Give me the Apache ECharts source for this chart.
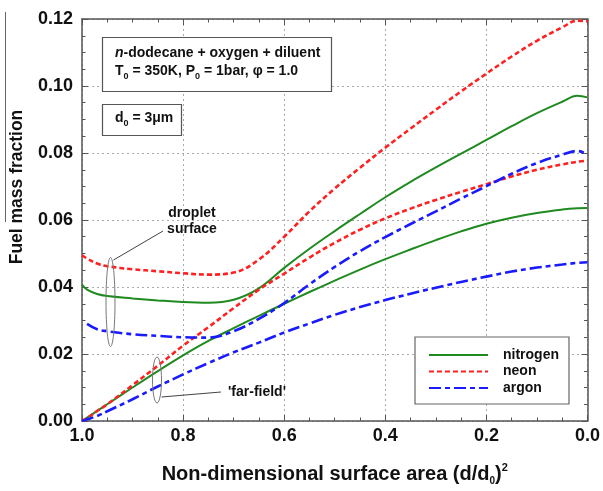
<!DOCTYPE html>
<html><head><meta charset="utf-8">
<script src="https://cdn.jsdelivr.net/npm/echarts@6/dist/echarts.min.js"></script>
<style>html,body{margin:0;padding:0;background:#fff}#c{width:603px;height:491px}</style>
</head><body><div id="c"></div>
<script>
// Non-dimensional surface area (d/d0)^2 sample positions
const xs = [1.0, 0.99, 0.97, 0.95, 0.9, 0.85, 0.8, 0.75, 0.7, 0.65, 0.6, 0.55, 0.5, 0.45, 0.4, 0.35, 0.3, 0.25, 0.2, 0.15, 0.1, 0.05, 0.02, 0.0];
// droplet surface fuel mass fraction
const nitrogenSurface = [0.0407, 0.0392, 0.0379, 0.0373, 0.0366, 0.0360, 0.0355, 0.0353, 0.0362, 0.0396, 0.0457, 0.0514, 0.0567, 0.0618, 0.0668, 0.0714, 0.0757, 0.0798, 0.0839, 0.0880, 0.0919, 0.0953, 0.0971, 0.0966];
const neonSurface     = [0.0495, 0.0485, 0.0470, 0.0462, 0.0453, 0.0447, 0.0441, 0.0437, 0.0443, 0.0482, 0.0550, 0.0626, 0.0694, 0.0756, 0.0816, 0.0873, 0.0929, 0.0984, 0.1037, 0.1088, 0.1135, 0.1175, 0.1195, 0.1193];
const argonSurface    = [null,   0.0290, 0.0274, 0.0268, 0.0259, 0.0254, 0.0250, 0.0249, 0.0268, 0.0305, 0.0352, 0.0408, 0.0460, 0.0507, 0.0549, 0.0588, 0.0626, 0.0664, 0.0701, 0.0738, 0.0770, 0.0795, 0.0806, 0.0795];
// 'far-field' fuel mass fraction
const nitrogenFar = [0, 0.0010, 0.0030, 0.0050, 0.0100, 0.0149, 0.0196, 0.0239, 0.0277, 0.0314, 0.0350, 0.0385, 0.0419, 0.0452, 0.0483, 0.0512, 0.0540, 0.0566, 0.0589, 0.0607, 0.0621, 0.0631, 0.0635, 0.0636];
const neonFar     = [0, 0.0008, 0.0030, 0.0050, 0.0107, 0.0165, 0.0225, 0.0280, 0.0337, 0.0392, 0.0440, 0.0488, 0.0532, 0.0571, 0.0605, 0.0634, 0.0660, 0.0684, 0.0707, 0.0730, 0.0750, 0.0766, 0.0774, 0.0777];
const argonFar    = [0, 0.0005, 0.0015, 0.0029, 0.0065, 0.0103, 0.0139, 0.0173, 0.0205, 0.0234, 0.0264, 0.0291, 0.0317, 0.0340, 0.0361, 0.0380, 0.0398, 0.0415, 0.0431, 0.0446, 0.0458, 0.0467, 0.0472, 0.0474];
const legendNames = ['nitrogen', 'neon', 'argon'];

const F = "'Liberation Sans', Arial, Helvetica, sans-serif";
const frame = '#555';
function pairs(ys) { return xs.map((x, i) => ys[i] == null ? null : [x, ys[i]]).filter(p => p); }

const styles = {
  nitrogen: { color: '#1f8a1f', width: 2, type: 'solid' },
  neon: { color: '#ff2020', width: 2.6, type: [5, 3] },
  argon: { color: '#1a1aff', width: 2.6, type: [12, 4, 5, 4] }
};
function ser(name, ys) {
  const s = styles[name];
  return { name, type: 'line', data: pairs(ys), symbol: 'none', smooth: 0.4,
    lineStyle: { color: s.color, width: s.width, type: s.type }, itemStyle: { color: s.color }, z: 3 };
}

const chart = echarts.init(document.getElementById('c'), null, { renderer: 'canvas' });
const axisCommon = {
  axisLine: { show: true, onZero: false, lineStyle: { color: frame, width: 1.5 } },
  axisTick: { show: true, inside: true, length: 6, lineStyle: { color: frame, width: 1 } },
  minorTick: { show: true, splitNumber: 4, length: 3.5, lineStyle: { color: frame, width: 1 } }
};
const labelFont = { color: '#111', fontSize: 18, fontWeight: 'bold', fontFamily: F };
const subStyle = { fontSize: 9, fontWeight: 'bold', fontFamily: F, fill: '#111', lineHeight: 1, verticalAlign: 'bottom' };
const mainStyle = { fontSize: 14, fontWeight: 'bold', fontFamily: F, fill: '#111', lineHeight: 20 };
chart.setOption({
  animation: false,
  backgroundColor: '#fff',
  grid: { left: 82, right: 11, top: 19, bottom: 65 },
  xAxis: [
    Object.assign({ type: 'value', min: 0, max: 1, interval: 0.2, inverse: true, position: 'bottom',
      axisLabel: Object.assign({ margin: 6, formatter: v => v.toFixed(1) }, labelFont),
      splitLine: { show: true, lineStyle: { color: '#aaa', width: 1, type: [2, 3] } },
      name: '{m|Non-dimensional surface area (d/d}{s|0}{m|)}{p|2}', nameLocation: 'middle', nameGap: 41,
      nameTextStyle: { rich: {
        m: { fontSize: 20, fontWeight: 'bold', fontFamily: F, color: '#111', lineHeight: 24 },
        s: { fontSize: 10, fontWeight: 'bold', fontFamily: F, color: '#111', lineHeight: 1, verticalAlign: 'bottom' },
        p: { fontSize: 11, fontWeight: 'bold', fontFamily: F, color: '#111', lineHeight: 8, verticalAlign: 'top' }
      } } }, axisCommon),
    Object.assign({ type: 'value', min: 0, max: 1, interval: 0.2, inverse: true, position: 'top',
      axisLabel: { show: false }, splitLine: { show: false } }, axisCommon)
  ],
  yAxis: [
    Object.assign({ type: 'value', min: 0, max: 0.12, interval: 0.02, position: 'left',
      axisLabel: Object.assign({ margin: 9, formatter: v => v.toFixed(2) }, labelFont),
      splitLine: { show: true, lineStyle: { color: '#aaa', width: 1, type: [2, 3] } } }, axisCommon),
    Object.assign({ type: 'value', min: 0, max: 0.12, interval: 0.02, position: 'right',
      axisLabel: { show: false }, splitLine: { show: false } }, axisCommon)
  ],
  legend: {
    data: legendNames, orient: 'vertical', left: 415, top: 337,
    backgroundColor: '#fff', borderColor: '#666', borderWidth: 1.2, borderRadius: 0,
    padding: [10, 10, 8, 13], itemWidth: 59, itemHeight: 14, itemGap: 0.5,
    itemStyle: { opacity: 0 },
    textStyle: { color: '#111', fontSize: 14, fontWeight: 'bold', fontFamily: F, lineHeight: 16, padding: [0, 0, 0, 10] },
    z: 20
  },
  series: [
    ser('nitrogen', nitrogenSurface), ser('nitrogen', nitrogenFar),
    ser('neon', neonSurface), ser('neon', neonFar),
    ser('argon', argonSurface), ser('argon', argonFar)
  ],
  graphic: [
    { type: 'line', z: 50, shape: { x1: 5.5, y1: 12, x2: 5.5, y2: 222 }, style: { stroke: '#666', lineWidth: 1 } },
    { type: 'text', z: 50, x: 17, y: 187, rotation: Math.PI / 2,
      style: { text: 'Fuel mass fraction', fontSize: 17.5, fontWeight: 'bold', fontFamily: F, fill: '#111', align: 'center', verticalAlign: 'middle' } },
    { type: 'rect', z: 50, shape: { x: 102.5, y: 37.5, width: 229, height: 54 }, style: { fill: '#fff', stroke: frame, lineWidth: 1.2 } },
    { type: 'rect', z: 50, shape: { x: 102.5, y: 104.5, width: 79, height: 31 }, style: { fill: '#fff', stroke: frame, lineWidth: 1.2 } },
    { type: 'text', z: 51, x: 115, y: 53,
      style: { text: '{i|n}{m|-dodecane + oxygen + diluent}', verticalAlign: 'middle', align: 'left',
        rich: { i: { fontSize: 14, fontWeight: 'bold', fontStyle: 'italic', fontFamily: F, fill: '#111' },
                m: { fontSize: 14, fontWeight: 'bold', fontFamily: F, fill: '#111' } } } },
    { type: 'text', z: 51, x: 115, y: 71.5,
      style: { text: '{m|T}{s|0}{m| = 350K, P}{s|0}{m| = 1bar, φ = 1.0}', verticalAlign: 'middle', align: 'left',
        rich: { m: mainStyle, s: subStyle } } },
    { type: 'text', z: 51, x: 115, y: 118.5,
      style: { text: '{m|d}{s|0}{m| = 3μm}', verticalAlign: 'middle', align: 'left',
        rich: { m: mainStyle, s: subStyle } } },
    { type: 'ellipse', z: 50, shape: { cx: 110.5, cy: 302, rx: 4.5, ry: 44.5 }, style: { fill: 'none', stroke: '#777', lineWidth: 1 } },
    { type: 'ellipse', z: 50, shape: { cx: 157, cy: 380, rx: 4.5, ry: 23 }, style: { fill: 'none', stroke: '#777', lineWidth: 1 } },
    { type: 'line', z: 50, shape: { x1: 113.5, y1: 260, x2: 163, y2: 231 }, style: { stroke: '#444', lineWidth: 1 } },
    { type: 'line', z: 50, shape: { x1: 161.5, y1: 397, x2: 221, y2: 392 }, style: { stroke: '#444', lineWidth: 1 } },
    { type: 'text', z: 51, x: 192, y: 221,
      style: { text: 'droplet\nsurface', fontSize: 14, fontWeight: 'bold', fontFamily: F, fill: '#111', lineHeight: 16, align: 'center', verticalAlign: 'middle' } },
    { type: 'text', z: 51, x: 228, y: 392.5,
      style: { text: "'far-field'", fontSize: 14, fontWeight: 'bold', fontFamily: F, fill: '#111', align: 'left', verticalAlign: 'middle' } }
  ]
});
</script></body></html>
